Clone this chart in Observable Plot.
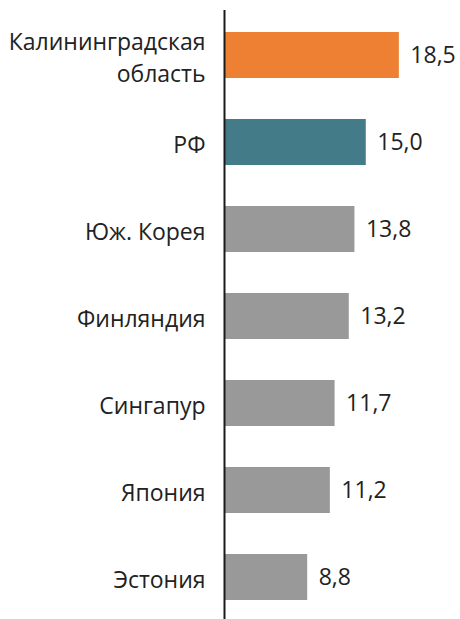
<!DOCTYPE html>
<html>
<head>
<meta charset="utf-8">
<script src="https://cdn.jsdelivr.net/npm/d3@7"></script>
<script src="https://cdn.jsdelivr.net/npm/@observablehq/plot@0.6"></script>
<style>
  html, body { margin: 0; padding: 0; background: #fff; }
  #chart svg { display: block; }
</style>
</head>
<body>
<div id="chart"></div>
<script>
const categories = ["Калининградская\nобласть", "РФ", "Юж. Корея", "Финляндия", "Сингапур", "Япония", "Эстония"];
const values = [18.5, 15.0, 13.8, 13.2, 11.7, 11.2, 8.8];
const colors = ["#EE8033", "#447B89", "#999999", "#999999", "#999999", "#999999", "#999999"];
const valueLabels = ["18,5", "15,0", "13,8", "13,2", "11,7", "11,2", "8,8"];

const data = categories.map((c, i) => ({cat: c, value: values[i], color: colors[i], label: valueLabels[i]}));

const font = "'Open Sans', sans-serif";
const chart = Plot.plot({
  width: 460,
  height: 619,
  marginLeft: 224,
  marginRight: 0,
  marginTop: 10,
  marginBottom: 0,
  style: {fontFamily: font, fontSize: "23px", color: "#222", background: "#fff"},
  x: {domain: [0, 24.97], range: [224, 460], axis: null},
  y: {domain: categories, range: [11.4, 621.6], paddingInner: 0.47, paddingOuter: 0.235, label: null},
  marks: [
    Plot.barX(data, {x: "value", y: "cat", fill: "color", insetLeft: 1}),
    Plot.text(data, {x: "value", y: "cat", text: "label", textAnchor: "start", dx: 11, fill: "#222", fontSize: 23}),
    Plot.axisY({tickSize: 0, tickPadding: 19, fontSize: 23, fill: "#222", lineHeight: 1.43}),
    Plot.ruleX([0], {stroke: "#1a1a1a", strokeWidth: 2})
  ]
});
document.getElementById("chart").appendChild(chart);
</script>
</body>
</html>
